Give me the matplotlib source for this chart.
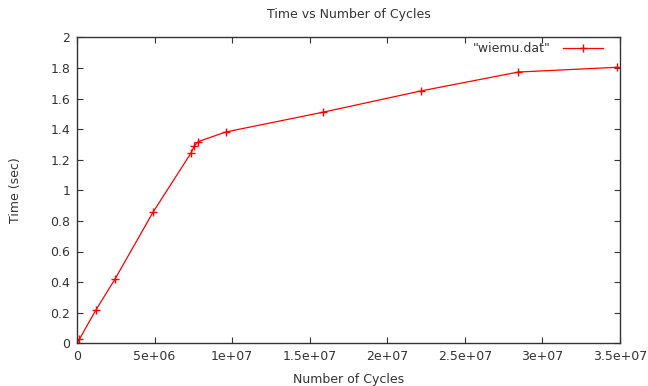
import matplotlib
matplotlib.use("Agg")
import matplotlib.pyplot as plt

cycles = [0, 0.148e6, 1.22e6, 2.45e6, 4.9e6, 7.35e6, 7.56e6, 7.82e6, 9.58e6,
          1.584e7, 2.215e7, 2.845e7, 3.483e7]
times = [0.0, 0.026, 0.218, 0.42, 0.857, 1.244, 1.29, 1.318, 1.381,
         1.51, 1.649, 1.773, 1.804]

xticks = [0, 5e6, 1e7, 1.5e7, 2e7, 2.5e7, 3e7, 3.5e7]
xticklabels = ["0", "5e+06", "1e+07", "1.5e+07", "2e+07", "2.5e+07", "3e+07", "3.5e+07"]
yticks = [0, 0.2, 0.4, 0.6, 0.8, 1, 1.2, 1.4, 1.6, 1.8, 2]
yticklabels = ["0", "0.2", "0.4", "0.6", "0.8", "1", "1.2", "1.4", "1.6", "1.8", "2"]

plt.rcParams['font.family'] = ['DejaVu Sans']
fig = plt.figure(figsize=(6.48, 3.86), dpi=100)
ax = fig.add_axes([77/648, 1-343.3/386, (620-77)/648, (343.3-37.3)/386])

ax.plot(cycles, times, color='#ff0000', linewidth=0.9, marker='+',
        markersize=5.5, markeredgewidth=1.0, label='"wiemu.dat"')

ax.set_xlim(0, 3.5e7)
ax.set_ylim(0, 2)
ax.set_xticks(xticks)
ax.set_xticklabels(xticklabels)
ax.set_yticks(yticks)
ax.set_yticklabels(yticklabels)
ax.tick_params(direction='in', length=4, width=0.8, color='#333333',
               labelsize=9, labelcolor='#333333', top=True, right=True, pad=5)
for s in ax.spines.values():
    s.set_color('#333333')
    s.set_linewidth(1.0)

ax.set_title("Time vs Number of Cycles", fontsize=9, color='#333333', pad=14)
ax.set_xlabel("Number of Cycles", fontsize=9, color='#333333', labelpad=7)
ax.set_ylabel("Time (sec)", fontsize=9, color='#333333', labelpad=20)

leg = ax.legend(loc='upper right', frameon=False, fontsize=9, handlelength=3.2,
                handletextpad=1.0, markerfirst=False, bbox_to_anchor=(0.99, 1.02))
for t in leg.get_texts():
    t.set_color('#333333')

fig.savefig("out.png", dpi=100)
